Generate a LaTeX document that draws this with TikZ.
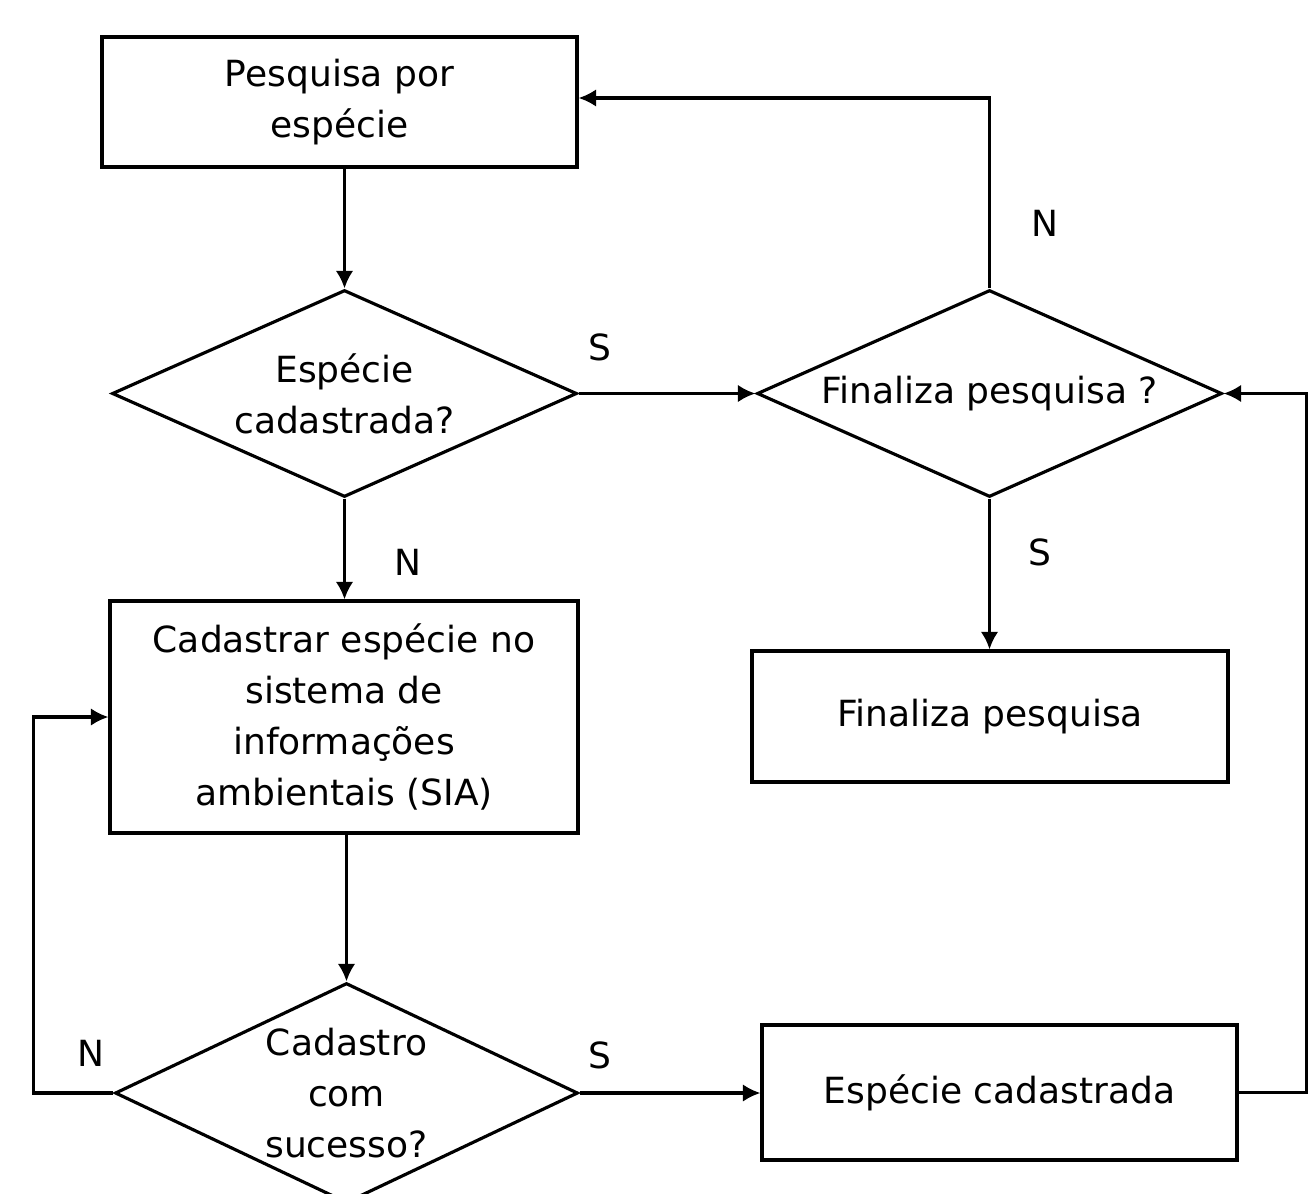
\documentclass[tikz,border=0pt]{standalone}
\usepackage{fontspec}
\setmainfont{DejaVu Sans}
\usetikzlibrary{shapes.geometric, arrows.meta}
\begin{document}
\begin{tikzpicture}[x=0.02cm, y=-0.02cm, font=\fontsize{20.5}{29}\selectfont,
    proc/.style={draw, line width=1.8pt, align=center, minimum width=9.5cm, minimum height=2.6cm},
    decision/.style={diamond, draw, line width=1.8pt, align=center, inner sep=0pt, aspect=2.2, minimum width=9.3cm, minimum height=4.14cm},
    flow/.style={->, >={Latex[length=10pt, width=10pt]}, line width=1.8pt}]
    \useasboundingbox (0,0) rectangle (1310,1193);
    % nodes
    \node[proc] (pesq) at (339.5,102) {Pesquisa por\\espécie};
    \node[decision] (cad) at (344.5,393.5) {Espécie\\cadastrada?};
    \node[decision] (fim) at (989.5,393.5) {Finaliza pesquisa ?};
    \node[proc, minimum width=9.36cm, minimum height=4.64cm] (sia) at (344,717) {Cadastrar espécie no\\sistema de\\informações\\ambientais (SIA)};
    \node[proc, minimum width=9.52cm, minimum height=2.62cm] (fpesq) at (990,716.5) {Finaliza pesquisa};
    \node[decision, minimum width=9.26cm, minimum height=4.4cm] (suc) at (346.5,1093) {Cadastro\\com\\sucesso?};
    \node[proc, minimum height=2.7cm] (ok) at (999.5,1092.5) {Espécie cadastrada};
    % connectors
    \draw[flow] (cad.north |- pesq.south) -- (cad.north);
    \draw[flow] (cad.east) -- node[pos=0.12, yshift=0.92cm] {S} (fim.west);
    \draw[flow] (cad.south) -- node[pos=0.63, xshift=1.26cm] {N} (sia.north -| cad.south);
    \draw[flow] (fim.north) |- node[pos=0.17, xshift=1.1cm] {N} ([yshift=0.08cm]pesq.east);
    \draw[flow] (fim.south) -- node[pos=0.36, xshift=1cm] {S} (fpesq.north -| fim.south);
    \draw[flow] (sia.south -| suc.north) -- (suc.north);
    \draw[flow] (suc.west) -- node[pos=0.275, yshift=0.8cm] {N} ++(-80,0) |- (sia.west);
    \draw[flow] (suc.east) -- node[pos=0.11, yshift=0.76cm] {S} (ok.west |- suc.east);
    \draw[flow] (ok.east) -- ++(68,0) |- (fim.east);
\end{tikzpicture}
\end{document}
